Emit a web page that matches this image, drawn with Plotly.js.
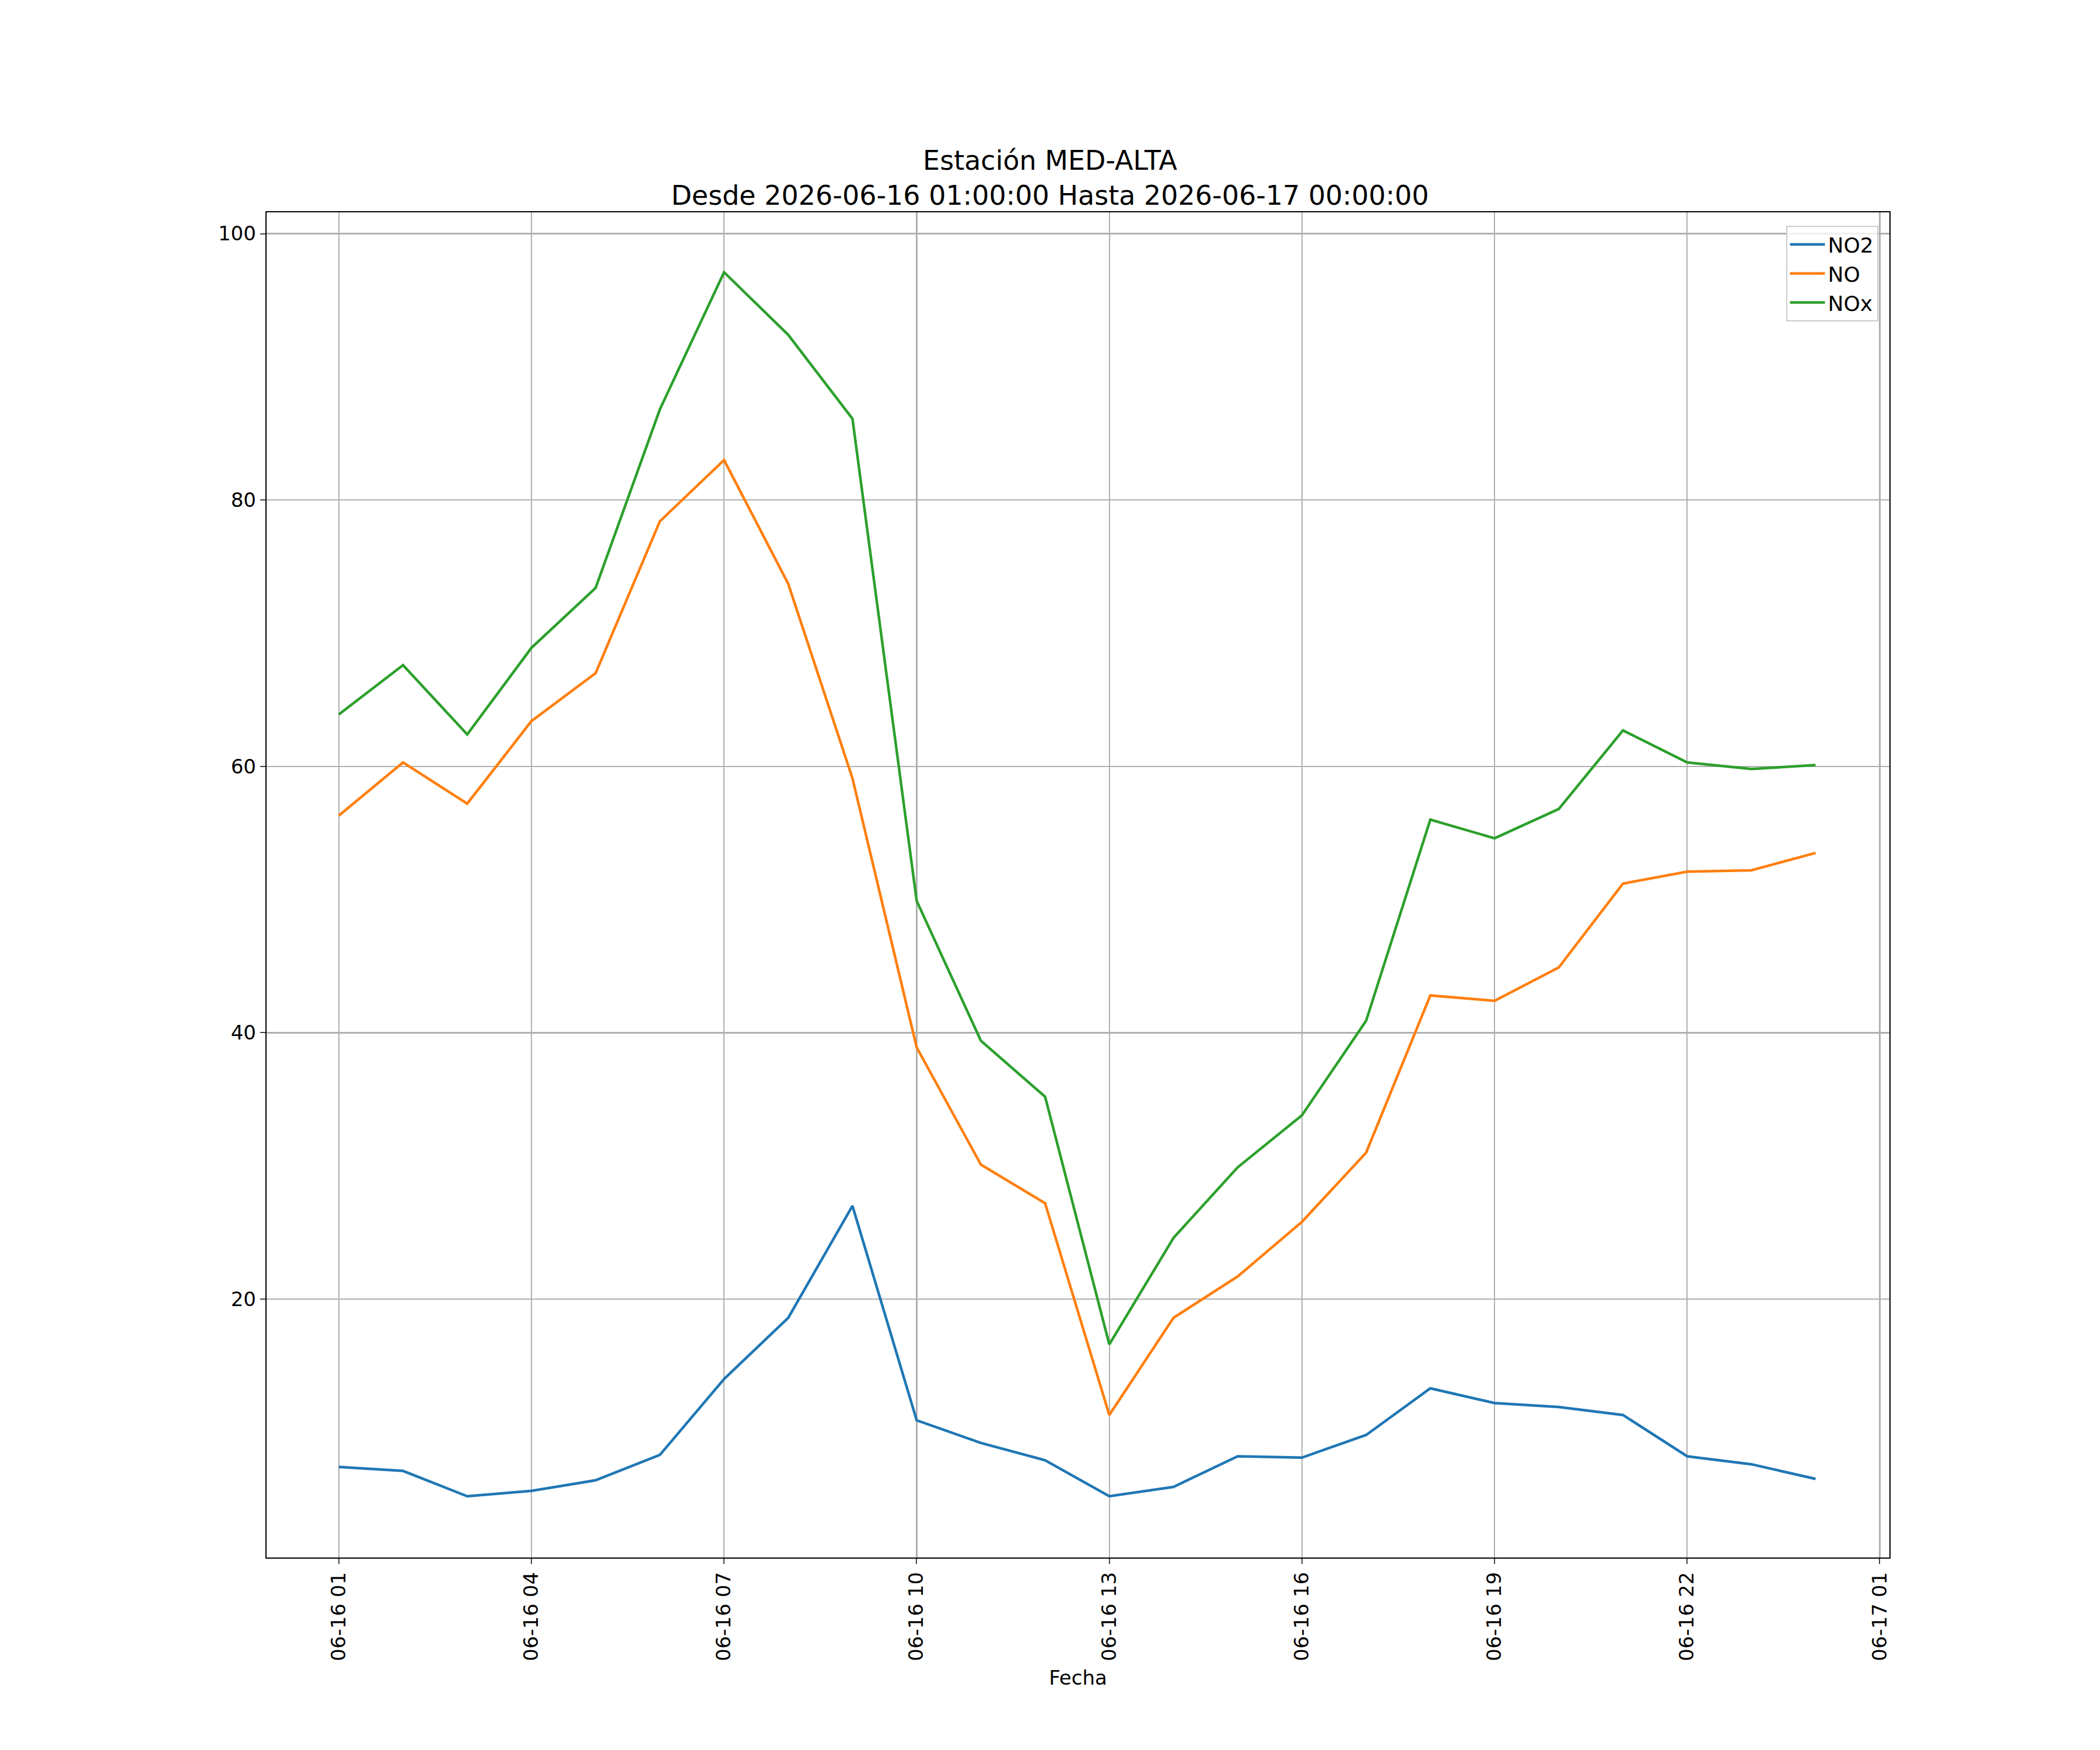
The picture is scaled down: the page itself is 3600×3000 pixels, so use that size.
<!DOCTYPE html>
<html>
<head>
<meta charset="utf-8">
<script src="https://cdn.plot.ly/plotly-3.0.1.min.js"></script>
<style>body{margin:0}</style>
</head>
<body>
<div id="chart" style="width:3600px;height:3000px"></div>
<script>
// horas del 2026-06-16 01:00 al 2026-06-17 00:00
var fechas = [];
for (var h = 1; h <= 24; h++) {
  fechas.push(h < 24 ? '2026-06-16 ' + (h < 10 ? '0' + h : h) + ':00:00' : '2026-06-17 00:00:00');
}
var no2 = [7.4,7.1,5.2,5.6,6.4,8.3,14.0,18.6,27.0,10.9,9.2,7.9,5.2,5.9,8.2,8.1,9.8,13.3,12.2,11.9,11.3,8.2,7.6,6.5];
var no = [56.3,60.3,57.2,63.4,67.0,78.4,83.0,73.7,59.1,38.9,30.1,27.2,11.3,18.6,21.7,25.8,31.0,42.8,42.4,44.9,51.2,52.1,52.2,53.5];
var nox = [63.9,67.6,62.4,68.9,73.4,86.8,97.1,92.4,86.1,49.9,39.4,35.2,16.6,24.6,29.9,33.8,40.9,56.0,54.6,56.8,62.7,60.3,59.8,60.1];

var linea = function (y, name, color) {
  return {x: fechas, y: y, name: name, type: 'scatter', mode: 'lines', line: {color: color, width: 4.5}};
};
var data = [linea(no2, 'NO2', '#1f77b4'), linea(no, 'NO', '#ff7f0e'), linea(nox, 'NOx', '#2ca02c')];

var eje = {showline: true, mirror: true, linecolor: 'black', linewidth: 2.3, ticks: 'outside',
  ticklen: 9, tickwidth: 2, showgrid: true, gridcolor: '#b0b0b0', gridwidth: 2.3, zeroline: false,
  tickfont: {size: 34, color: 'black'}};

var layout = {
  width: 3600, height: 3000,
  margin: {l: 457, r: 361, t: 364, b: 330},
  paper_bgcolor: 'white', plot_bgcolor: 'white',
  font: {family: 'DejaVu Sans', color: 'black'},
  title: {text: 'Estación MED-ALTA<br>Desde 2026-06-16 01:00:00 Hasta 2026-06-17 00:00:00',
    font: {size: 46}, x: 0.5, xanchor: 'center', y: 0.903, yanchor: 'bottom'},
  xaxis: Object.assign({}, eje, {type: 'date', range: ['2026-06-15 23:52:30', '2026-06-17 01:09:00'],
    tick0: '2026-06-16 01:00:00', dtick: 3 * 3600 * 1000, tickformat: '%m-%d %H', tickangle: -90,
    title: {text: 'Fecha', font: {size: 34}, standoff: 18}}),
  yaxis: Object.assign({}, eje, {range: [0.6, 101.6], tickvals: [20, 40, 60, 80, 100]}),
  legend: {x: 0.993, y: 0.99, xanchor: 'right', yanchor: 'top', bordercolor: '#cccccc', borderwidth: 2,
    font: {size: 36}, bgcolor: 'rgba(255,255,255,0.8)', itemwidth: 60},
  showlegend: true
};
Plotly.newPlot('chart', data, layout, {staticPlot: true});
</script>
</body>
</html>
